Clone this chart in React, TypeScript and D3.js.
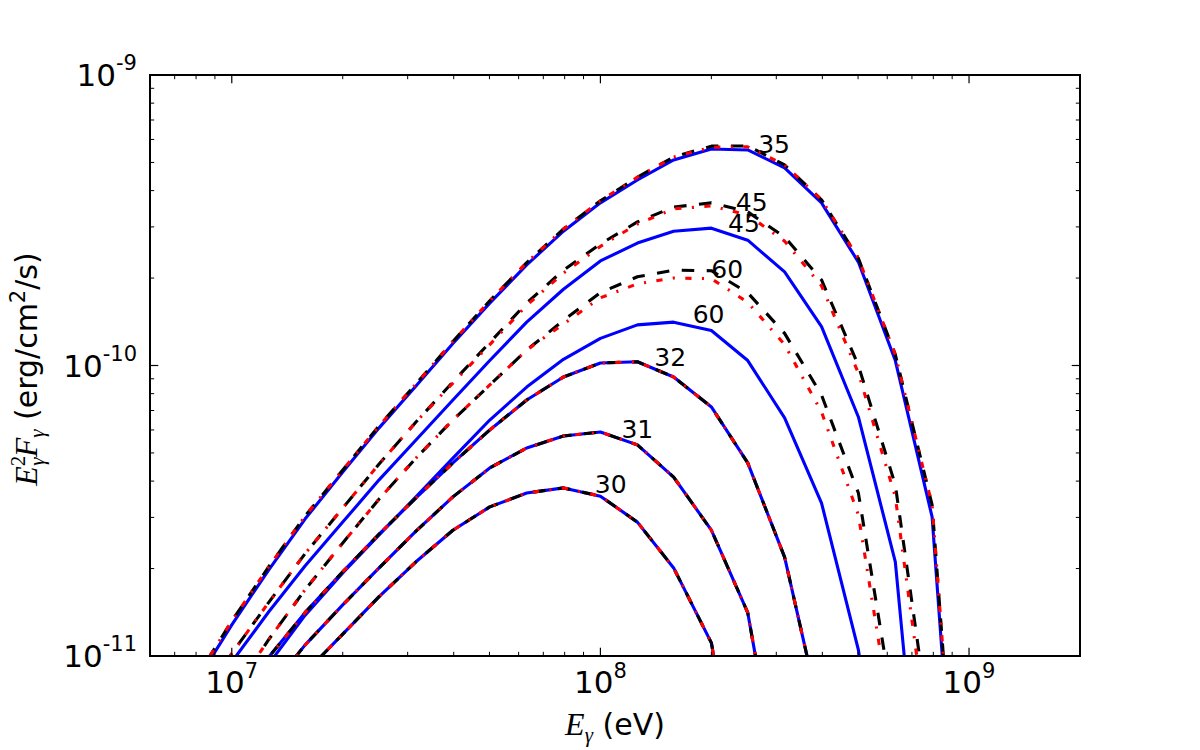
import React from 'react';
import * as d3 from 'd3';

// photon energy grid (eV), 0.1 dex steps
const energy = [7.94e6, 1.0e7, 1.26e7, 1.58e7, 2.0e7, 2.51e7, 3.16e7, 3.98e7, 5.01e7, 6.31e7, 7.94e7,
  1.0e8, 1.26e8, 1.58e8, 2.0e8, 2.51e8, 3.16e8, 3.98e8, 5.01e8, 6.31e8, 7.94e8, 1.0e9];

type V = number | null;

const blue35: V[] = [8.0e-12, 1.28e-11, 1.98e-11, 2.96e-11, 4.30e-11, 6.10e-11, 8.50e-11, 1.19e-10, 1.64e-10, 2.22e-10, 2.90e-10,
  3.63e-10, 4.35e-10, 5.10e-10, 5.56e-10, 5.52e-10, 4.79e-10, 3.63e-10, 2.27e-10, 1.04e-10, 3.01e-11, 5.5e-13];
const dash35: V[] = [8.26e-12, 1.32e-11, 2.03e-11, 3.03e-11, 4.37e-11, 6.20e-11, 8.64e-11, 1.21e-10, 1.67e-10, 2.26e-10, 2.95e-10,
  3.69e-10, 4.45e-10, 5.22e-10, 5.69e-10, 5.70e-10, 4.90e-10, 3.72e-10, 2.34e-10, 1.09e-10, 3.31e-11, 6.6e-13];
const dot35: V[] = [8.26e-12, 1.32e-11, 2.03e-11, 3.03e-11, 4.37e-11, 6.20e-11, 8.64e-11, 1.21e-10, 1.67e-10, 2.26e-10, 2.95e-10,
  3.69e-10, 4.45e-10, 5.22e-10, 5.64e-10, 5.66e-10, 4.90e-10, 3.72e-10, 2.34e-10, 1.09e-10, 3.31e-11, 6.6e-13];

const blue45: V[] = [6.22e-12, 9.54e-12, 1.42e-11, 2.04e-11, 2.89e-11, 4.04e-11, 5.54e-11, 7.61e-11, 1.04e-10, 1.41e-10, 1.83e-10,
  2.29e-10, 2.64e-10, 2.90e-10, 2.97e-10, 2.70e-10, 2.10e-10, 1.36e-10, 6.65e-11, 2.11e-11, 9.7e-13, null];
const dash45: V[] = [6.73e-12, 1.02e-11, 1.53e-11, 2.25e-11, 3.23e-11, 4.58e-11, 6.39e-11, 8.78e-11, 1.20e-10, 1.64e-10, 2.13e-10,
  2.62e-10, 3.12e-10, 3.51e-10, 3.63e-10, 3.38e-10, 2.77e-10, 1.97e-10, 1.00e-10, 3.88e-11, 4.94e-12, null];
const dot45: V[] = [6.73e-12, 1.02e-11, 1.53e-11, 2.25e-11, 3.23e-11, 4.58e-11, 6.39e-11, 8.70e-11, 1.18e-10, 1.61e-10, 2.08e-10,
  2.57e-10, 3.07e-10, 3.46e-10, 3.54e-10, 3.30e-10, 2.68e-10, 1.88e-10, 9.42e-11, 3.53e-11, 4.05e-12, null];

const blue60: V[] = [4.05e-12, 6.22e-12, 9.39e-12, 1.38e-11, 1.93e-11, 2.61e-11, 3.53e-11, 4.80e-11, 6.49e-11, 8.43e-11, 1.05e-10,
  1.24e-10, 1.38e-10, 1.41e-10, 1.32e-10, 1.04e-10, 6.60e-11, 3.36e-11, 1.05e-11, 1.45e-12, null, null];
const dash60: V[] = [4.75e-12, 7.40e-12, 1.14e-11, 1.69e-11, 2.45e-11, 3.47e-11, 4.80e-11, 6.49e-11, 8.57e-11, 1.13e-10, 1.43e-10,
  1.78e-10, 2.02e-10, 2.13e-10, 2.12e-10, 1.78e-10, 1.29e-10, 7.91e-11, 3.64e-11, 6.02e-12, null, null];
const dot60: V[] = [4.75e-12, 7.40e-12, 1.14e-11, 1.69e-11, 2.45e-11, 3.47e-11, 4.80e-11, 6.49e-11, 8.57e-11, 1.13e-10, 1.39e-10,
  1.71e-10, 1.91e-10, 2.00e-10, 1.99e-10, 1.65e-10, 1.18e-10, 6.92e-11, 3.06e-11, 4.94e-12, null, null];

// these three models coincide for all three line styles
const flux32: V[] = [4.67e-12, 6.89e-12, 9.92e-12, 1.41e-11, 1.95e-11, 2.63e-11, 3.50e-11, 4.62e-11, 6.00e-11, 7.61e-11, 9.13e-11,
  1.02e-10, 1.03e-10, 9.13e-11, 7.20e-11, 4.62e-11, 2.19e-11, 6.02e-12, null, null, null, null];
const flux31: V[] = [null, 5.26e-12, 7.64e-12, 1.09e-11, 1.50e-11, 2.01e-11, 2.69e-11, 3.53e-11, 4.44e-11, 5.20e-11, 5.72e-11,
  5.90e-11, 5.33e-11, 4.13e-11, 2.71e-11, 1.41e-11, 2.73e-12, null, null, null, null, null];
const flux30: V[] = [null, null, 6.31e-12, 8.74e-12, 1.19e-11, 1.60e-11, 2.11e-11, 2.71e-11, 3.26e-11, 3.64e-11, 3.79e-11,
  3.55e-11, 2.89e-11, 2.01e-11, 1.11e-11, 2.15e-12, null, null, null, null, null, null];

const solidSeries = [blue35, blue45, blue60, flux32, flux31, flux30];
const dashedSeries = [dash35, dash45, dash60, flux32, flux31, flux30];
const dashDotSeries = [dot35, dot45, dot60, flux32, flux31, flux30];

const curveLabels = [
  { text: '35', e: 2.68e8, v: 5.39e-10 },
  { text: '45', e: 2.33e8, v: 3.40e-10 },
  { text: '45', e: 2.22e8, v: 2.88e-10 },
  { text: '60', e: 2.0e8, v: 2.0e-10 },
  { text: '60', e: 1.78e8, v: 1.40e-10 },
  { text: '32', e: 1.4e8, v: 1.0e-10 },
  { text: '31', e: 1.14e8, v: 5.63e-11 },
  { text: '30', e: 9.66e7, v: 3.64e-11 },
];

const xMajor = [1e7, 1e8, 1e9];
const xMajorExp = ['7', '8', '9'];
const yMajor = [1e-11, 1e-10, 1e-9];
const yMajorExp = ['-11', '-10', '-9'];

const W = 1200, H = 750;
const L = 150, R = 1080, T = 75, B = 656;
const sans = 'DejaVu Sans, sans-serif';
const serif = 'Liberation Serif, DejaVu Serif, serif';

export default function App() {
  const x = d3.scaleLog().domain([6e6, 2e9]).range([L, R]);
  const y = d3.scaleLog().domain([1e-11, 1e-9]).range([B, T]);

  const line = d3.line<[number, V]>()
    .defined(d => d[1] !== null)
    .x(d => x(d[0]))
    .y(d => y(d[1] as number));
  const path = (s: V[]) => line(energy.map((e, i) => [e, s[i]] as [number, V])) || '';

  const xMinor = x.ticks().filter(t => !xMajor.some(m => Math.abs(m - t) / m < 1e-6) && t > 6e6 && t < 2e9);
  const yMinor = y.ticks().filter(t => !yMajor.some(m => Math.abs(m - t) / m < 1e-6));

  return (
    <svg width={W} height={H} style={{ position: 'absolute', left: 0, top: 0, background: '#fff' }}>
      <defs>
        <clipPath id="plot">
          <rect x={L} y={T} width={R - L} height={B - T} />
        </clipPath>
      </defs>
      <rect x={0} y={0} width={W} height={H} fill="#fff" />

      <g clipPath="url(#plot)" fill="none" strokeWidth={3.1} strokeLinejoin="round">
        {solidSeries.map((s, i) => <path key={'s' + i} d={path(s)} stroke="#0000ff" />)}
        {dashedSeries.map((s, i) => <path key={'d' + i} d={path(s)} stroke="#000" strokeDasharray="12.5,12.5" />)}
        {dashDotSeries.map((s, i) => <path key={'r' + i} d={path(s)} stroke="#ff0000" strokeDasharray="6.25,10.4,2.1,10.4" />)}
      </g>

      {curveLabels.map((c, i) => (
        <text key={'l' + i} x={x(c.e)} y={y(c.v)} fontFamily={sans} fontSize={25} fill="#000">{c.text}</text>
      ))}

      {/* ticks, inward on all sides */}
      <g stroke="#000">
        {xMajor.map(t => (
          <g key={'xm' + t}>
            <line x1={x(t)} x2={x(t)} y1={B} y2={B - 8.3} strokeWidth={1.2} />
            <line x1={x(t)} x2={x(t)} y1={T} y2={T + 8.3} strokeWidth={1.2} />
          </g>
        ))}
        {xMinor.map(t => (
          <g key={'xn' + t}>
            <line x1={x(t)} x2={x(t)} y1={B} y2={B - 4.2} strokeWidth={1} />
            <line x1={x(t)} x2={x(t)} y1={T} y2={T + 4.2} strokeWidth={1} />
          </g>
        ))}
        {yMajor.map(t => (
          <g key={'ym' + t}>
            <line x1={L} x2={L + 8.3} y1={y(t)} y2={y(t)} strokeWidth={1.2} />
            <line x1={R} x2={R - 8.3} y1={y(t)} y2={y(t)} strokeWidth={1.2} />
          </g>
        ))}
        {yMinor.map(t => (
          <g key={'yn' + t}>
            <line x1={L} x2={L + 4.2} y1={y(t)} y2={y(t)} strokeWidth={1} />
            <line x1={R} x2={R - 4.2} y1={y(t)} y2={y(t)} strokeWidth={1} />
          </g>
        ))}
      </g>

      <rect x={L} y={T} width={R - L} height={B - T} fill="none" stroke="#000" strokeWidth={2} />

      {xMajor.map((t, i) => (
        <text key={'xt' + t} x={x(t)} y={693} textAnchor="middle" fontFamily={sans} fontSize={31}>
          10<tspan dy={-15} fontSize={21}>{xMajorExp[i]}</tspan>
        </text>
      ))}
      {yMajor.map((t, i) => (
        <text key={'yt' + t} x={137} y={y(t) + 11} textAnchor="end" fontFamily={sans} fontSize={31}>
          10<tspan dy={-16} fontSize={21}>{yMajorExp[i]}</tspan>
        </text>
      ))}

      <text x={615} y={735} textAnchor="middle" fontFamily={sans} fontSize={30}>
        <tspan fontFamily={serif} fontStyle="italic" fontSize={32}>E</tspan>
        <tspan dy={7} fontSize={21} fontFamily={serif} fontStyle="italic">γ</tspan>
        <tspan dy={-7}> (eV)</tspan>
      </text>

      <text transform="translate(37,369) rotate(-90)" textAnchor="middle" fontFamily={sans} fontSize={30}>
        <tspan fontFamily={serif} fontStyle="italic" fontSize={32}>E</tspan>
        <tspan dy={-12} fontSize={21} fontFamily={serif}>2</tspan>
        <tspan dx={-10} dy={19} fontSize={21} fontFamily={serif} fontStyle="italic">γ</tspan>
        <tspan dy={-7} fontFamily={serif} fontStyle="italic" fontSize={32}>F</tspan>
        <tspan dy={7} fontSize={21} fontFamily={serif} fontStyle="italic">γ</tspan>
        <tspan dy={-7}>  (erg/cm</tspan>
        <tspan dy={-12} fontSize={21}>2</tspan>
        <tspan dy={12}>/s)</tspan>
      </text>
    </svg>
  );
}
